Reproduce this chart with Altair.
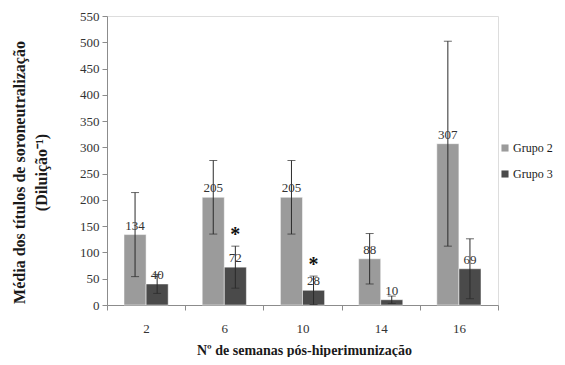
import altair as alt
import pandas as pd

weeks = ["2", "6", "10", "14", "16"]
groups = ["Grupo 2", "Grupo 3"]
g2_mean = [134, 205, 205, 88, 307]
g2_err = [80, 70, 70, 48, 195]
g3_mean = [40, 72, 28, 10, 69]
g3_err = [18, 40, 27, 7, 57]
g3_signif = [False, True, True, False, False]

rows = []
for i, w in enumerate(weeks):
    rows.append(dict(week=w, grupo="Grupo 2", mean=g2_mean[i], err=g2_err[i], sig=False))
    rows.append(dict(week=w, grupo="Grupo 3", mean=g3_mean[i], err=g3_err[i], sig=g3_signif[i]))
df = pd.DataFrame(rows)
df["lo"] = (df["mean"] - df["err"]).clip(lower=0)
df["hi"] = df["mean"] + df["err"]
df["star"] = df["sig"].map({True: "*", False: ""})

FONT = "Liberation Serif"

x = alt.X("week:N", sort=weeks,
          scale=alt.Scale(paddingInner=0, paddingOuter=0),
          axis=alt.Axis(title="Nº de semanas pós-hiperimunização", labelAngle=0,
                        tickBand="extent", tickSize=5, labelPadding=12,
                        labelFont=FONT, labelFontSize=13, labelColor="#333333",
                        domainColor="#8c8c8c", tickColor="#8c8c8c",
                        titleFont=FONT, titleFontSize=14, titleFontWeight="bold",
                        titleColor="#1a1a1a", titleX=197, titleY=45,
                        titleBaseline="middle"))
xo = alt.XOffset("grupo:N", sort=groups,
                 scale=alt.Scale(paddingInner=0, paddingOuter=0.77))

yaxis = alt.Axis(values=list(range(0, 551, 50)), grid=False, tickSize=5,
                 labelOverlap=False,
                 labelPadding=3, labelFont=FONT, labelFontSize=13,
                 labelColor="#333333", domainColor="#8c8c8c", tickColor="#8c8c8c",
                 title=["Média dos títulos de soroneutralização", "(Diluição⁻¹)"],
                 titleFont=FONT, titleFontSize=16, titleFontWeight="bold",
                 titleColor="#1a1a1a", titleAngle=-90, titleAlign="center",
                 titleBaseline="top", titleX=-96, titleY=156, titleLineHeight=22)
yscale = alt.Scale(domain=[0, 550], nice=False)


def Y(field):
    return alt.Y(field, scale=yscale, axis=yaxis)


color = alt.Color("grupo:N", sort=groups,
                  scale=alt.Scale(domain=groups, range=["#9b9b9b", "#4a4a4a"]),
                  legend=alt.Legend(title=None, orient="none", legendX=392, legendY=126,
                                    symbolType="square", symbolSize=50, symbolStrokeWidth=0,
                                    labelFont=FONT, labelFontSize=12, labelColor="#1a1a1a",
                                    rowPadding=14, labelOffset=2))

base = alt.Chart(df).encode(x=x, xOffset=xo)

bars = base.mark_bar(stroke="white", strokeWidth=0.5).encode(y=Y("mean:Q"), color=color)
rule = base.mark_rule(color="#2b2b2b", strokeWidth=1).encode(y=Y("lo:Q"), y2="hi:Q")
cap_hi = base.mark_tick(orient="horizontal", size=8, thickness=1, color="#2b2b2b").encode(y=Y("hi:Q"))
cap_lo = base.mark_tick(orient="horizontal", size=8, thickness=1, color="#2b2b2b").encode(y=Y("lo:Q"))
labels = base.mark_text(font=FONT, fontSize=13, color="#333333", baseline="bottom", dy=-2).encode(
    y=Y("mean:Q"), text="mean:Q")
stars = base.mark_text(font=FONT, fontSize=20, fontWeight="bold", color="#111111",
                       baseline="middle", dy=-11).encode(y=Y("hi:Q"), text="star:N")

chart = alt.layer(bars, rule, cap_hi, cap_lo, labels, stars).properties(
    width=391, height=289,
    autosize=alt.AutoSizeParams(type="none"),
    padding={"left": 99, "top": 8, "right": 59, "bottom": 52},
).configure_view(stroke=None).configure(background="white")

chart.save("out.html", embed_options={"renderer": "svg", "actions": False})
